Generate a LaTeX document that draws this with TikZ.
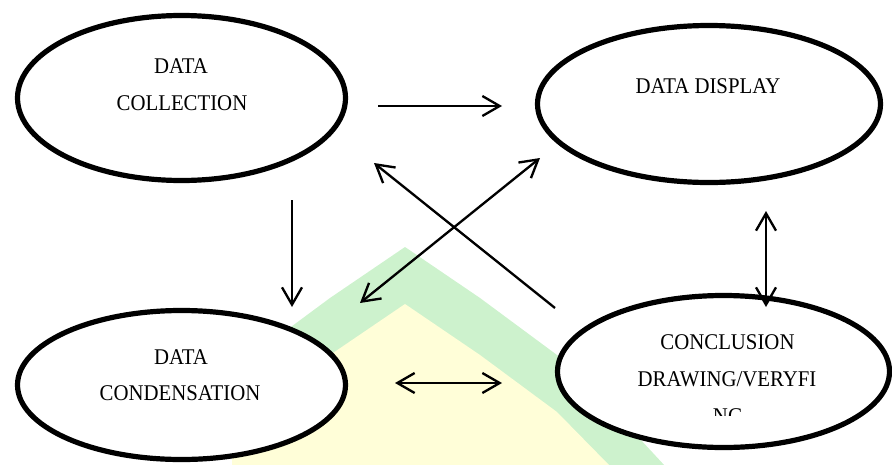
\documentclass[tikz,border=0pt]{standalone}
\usepackage{fontspec}
\setmainfont{Liberation Serif}
\usetikzlibrary{arrows.meta,shapes.geometric}
\definecolor{wmgreen}{RGB}{205,242,205}
\definecolor{wmyellow}{RGB}{255,254,216}
\begin{document}
\begin{tikzpicture}[x=0.75pt,y=-0.75pt,
  bubble/.style={draw=black,fill=white,line width=3.9pt,ellipse,inner sep=0pt},
  lbl/.style={anchor=base,inner sep=0pt,font=\fontsize{15.6}{18}\selectfont},
  tip/.style={Straight Barb[length=13pt,width=15pt]},
  arr/.style={line width=1.75pt,-{Straight Barb[length=13pt,width=15pt]}},
  darr/.style={line width=1.75pt,{Straight Barb[length=13pt,width=15pt]}-{Straight Barb[length=13pt,width=15pt]}}]
\useasboundingbox (0,0) rectangle (892,464);
% watermark
\begin{scope}
\clip (232,0) rectangle (892,464);
\fill[wmgreen] (405,247) -- (480,298) -- (557,355) -- (615,412) -- (665,466)
  -- (145,466) -- (195,412) -- (253,355) -- (330,298) -- cycle;
\fill[wmyellow] (405,304) -- (480,355) -- (557,412) -- (610,466)
  -- (200,466) -- (253,412) -- (330,355) -- cycle;
\end{scope}
% ellipses
\node[bubble,minimum width=328*0.75pt,minimum height=165*0.75pt] (dc) at (181.5,98) {};
\node[bubble,minimum width=343*0.75pt,minimum height=157*0.75pt] (dd) at (709,104) {};
\node[bubble,minimum width=328*0.75pt,minimum height=149*0.75pt] (dn) at (181.5,385) {};
\node[bubble,minimum width=332*0.75pt,minimum height=152*0.75pt] (cd) at (723.5,371.5) {};
% labels
\node[lbl] (t1) at (181,73) {\scalebox{1}[1.08]{DATA}};
\node[lbl] (t2) at (182,110) {\scalebox{1}[1.08]{COLLECTION}};
\node[lbl] (t3) at (708,93) {\scalebox{1}[1.08]{DATA DISPLAY}};
\node[lbl] (t4) at (181,364) {\scalebox{1}[1.08]{DATA}};
\node[lbl] (t5) at (180,400.5) {\scalebox{1}[1.08]{CONDENSATION}};
\node[lbl] (t6) at (727.5,349) {\scalebox{1}[1.08]{CONCLUSION}};
\node[lbl] (t7) at (727,386) {\scalebox{1}[1.08]{DRAWING/VERYFI}};
\begin{scope}
\clip (600,395) rectangle (860,415);
\node[lbl] (t8) at (728,423.5) {\scalebox{1}[1.08]{NG}};
\end{scope}
% connector end points
\coordinate (a1) at (378,106); \coordinate (b1) at (502,106);
\coordinate (a2) at (292,200); \coordinate (b2) at (292,307);
\coordinate (a3) at (395,383); \coordinate (b3) at (502,383);
\coordinate (a4) at (360,303); \coordinate (b4) at (540,158);
\coordinate (a5) at (555,308); \coordinate (b5) at (374,163);
\coordinate (a6) at (766,211); \coordinate (b6) at (766,307);
% connectors
\draw[arr] (a1) -- (b1);
\draw[arr] (a2) -- (b2);
\draw[darr] (a3) -- (b3);
\draw[darr] (a4) -- (b4);
\draw[arr] (a5) -- (b5);
\draw[darr] (a6) -- (b6);
\end{tikzpicture}
\end{document}
